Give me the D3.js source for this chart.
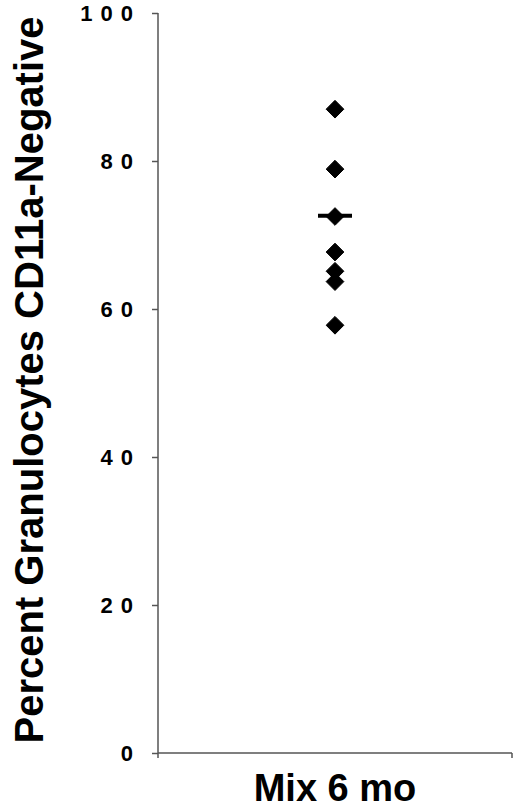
<!DOCTYPE html>
<html>
<head>
<meta charset="utf-8">
<script src="https://cdn.jsdelivr.net/npm/d3@7"></script>
<style>
  body { margin: 0; background: #fff; }
  svg { display: block; }
</style>
</head>
<body>
<svg id="chart" width="520" height="808"></svg>
<script>
// values
const groups = ["Mix 6 mo"];
const percentNeg = [87.0, 78.9, 72.5, 67.7, 65.1, 63.7, 57.8];
const meanLine = [72.6];
const yTicks = [0, 20, 40, 60, 80, 100];

const svg = d3.select("#chart");

let yScale = d3.scaleLinear()
                .domain([0, 100])
                .range([753, 13]);

let xScale = d3.scalePoint()
                .domain(groups)
                .range([158, 512])
                .padding(0.5);

// y axis
let yAxis = d3.axisLeft(yScale)
                .tickValues(yTicks)
                .tickSize(6)
                .tickPadding(11);

let yg = svg.append("g")
            .attr("transform", "translate(158,0)")
            .call(yAxis);
yg.select(".domain").remove();
yg.append("line")
    .attr("x1", 0).attr("x2", 0)
    .attr("y1", yScale(100)).attr("y2", yScale(0) + 5)
    .attr("stroke", "#555").attr("stroke-width", 1.5);
yg.selectAll(".tick line").attr("stroke", "#555").attr("stroke-width", 1.5);
yg.selectAll(".tick text")
    .attr("fill", "#000")
    .attr("dy", "0.36em")
    .style("font-family", "Arial, 'Liberation Sans', sans-serif")
    .style("font-weight", "bold")
    .style("font-size", "22px")
    .style("letter-spacing", "8px");

// x axis
svg.append("line")
    .attr("x1", 158).attr("x2", 512)
    .attr("y1", yScale(0)).attr("y2", yScale(0))
    .attr("stroke", "#555").attr("stroke-width", 1.5);
svg.append("line")
    .attr("x1", 512).attr("x2", 512)
    .attr("y1", yScale(0)).attr("y2", yScale(0) + 5)
    .attr("stroke", "#555").attr("stroke-width", 1.5);

svg.append("text")
    .attr("x", xScale(groups[0]))
    .attr("y", 801)
    .attr("text-anchor", "middle")
    .style("font-family", "Arial, 'Liberation Sans', sans-serif")
    .style("font-weight", "bold")
    .style("font-size", "38px")
    .text(groups[0]);

// y title
svg.append("text")
    .attr("transform", "translate(43,380) rotate(-90)")
    .attr("text-anchor", "middle")
    .style("font-family", "Arial, 'Liberation Sans', sans-serif")
    .style("font-weight", "bold")
    .style("font-size", "40px")
    .text("Percent Granulocytes CD11a-Negative");

// points
let diamond = d3.symbol().type(d3.symbolDiamond2).size(200);
svg.append("g").selectAll("path")
    .data(percentNeg)
    .enter()
    .append("path")
        .attr("d", diamond)
        .attr("fill", "#000")
        .attr("stroke", "#000")
        .attr("stroke-width", 1)
        .attr("stroke-linejoin", "round")
        .attr("transform", d => `translate(${xScale(groups[0])},${yScale(d)})`);

// mean bar
svg.append("g").selectAll("line")
    .data(meanLine)
    .enter()
    .append("line")
        .attr("x1", xScale(groups[0]) - 17)
        .attr("x2", xScale(groups[0]) + 17)
        .attr("y1", d => yScale(d))
        .attr("y2", d => yScale(d))
        .attr("stroke", "#000")
        .attr("stroke-width", 4);
</script>
</body>
</html>
